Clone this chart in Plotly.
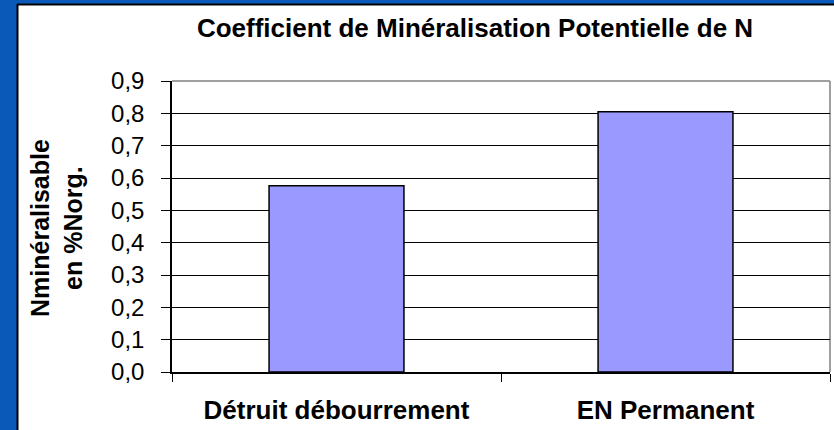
import plotly.graph_objects as go

categories = ["Détruit débourrement", "EN Permanent"]
values = [0.576, 0.805]
y_ticks = [0.0, 0.1, 0.2, 0.3, 0.4, 0.5, 0.6, 0.7, 0.8, 0.9]

title_text = "Coefficient de Minéralisation Potentielle de N"
y_title = "Nminéralisable<br>en %Norg."

W, H = 834, 430
L, R, T, B = 172, 4, 81, 58
pw, ph = W - L - R, H - T - B


def px_x(p):
    return (p - L) / pw


def px_y(p):
    return (H - B - p) / ph


FONT = "Liberation Sans, Arial, sans-serif"
BLUE = "#0A58B8"

fig = go.Figure()
fig.add_trace(go.Bar(
    x=categories, y=values, width=0.41,
    marker=dict(color="#9999FF", line=dict(color="black", width=1.5)),
    hoverinfo="skip",
))

shapes = [
    # blue slide background strips (left and top)
    dict(type="rect", xref="paper", yref="paper", layer="above",
         x0=px_x(-5), x1=px_x(17), y0=px_y(440), y1=px_y(-5),
         fillcolor=BLUE, line=dict(width=0)),
    dict(type="rect", xref="paper", yref="paper", layer="above",
         x0=px_x(-5), x1=px_x(840), y0=px_y(4), y1=px_y(-5),
         fillcolor=BLUE, line=dict(width=0)),
    # black border of the chart panel
    dict(type="line", xref="paper", yref="paper", layer="above",
         x0=px_x(17.5), x1=px_x(17.5), y0=px_y(440), y1=px_y(4),
         line=dict(color="black", width=2)),
    dict(type="line", xref="paper", yref="paper", layer="above",
         x0=px_x(17), x1=px_x(840), y0=px_y(4.5), y1=px_y(4.5),
         line=dict(color="black", width=2)),
    # grey plot frame (top / right)
    dict(type="line", xref="paper", yref="paper", layer="between",
         x0=0, x1=1, y0=1, y1=1, line=dict(color="#808080", width=1.5)),
    dict(type="line", xref="paper", yref="paper", layer="between",
         x0=1, x1=1, y0=0, y1=1, line=dict(color="#808080", width=1.5)),
]

fig.update_layout(
    width=W, height=H,
    margin=dict(l=L, r=R, t=T, b=B),
    paper_bgcolor="white",
    plot_bgcolor="white",
    separators=", ",
    showlegend=False,
    font=dict(family=FONT, color="black"),
    title=dict(text="<b>" + title_text + "</b>", font=dict(size=26, color="black"),
               xref="container", x=475 / W, xanchor="center",
               yref="container", y=1 - 28 / H, yanchor="middle"),
    shapes=shapes,
    annotations=[dict(text="<b>" + y_title + "</b>", xref="paper", yref="paper",
                      x=px_x(56), y=px_y(228), xanchor="center", yanchor="middle",
                      textangle=-90, showarrow=False,
                      font=dict(size=25, color="black", family=FONT))],
)

fig.update_xaxes(
    tickson="boundaries", ticks="outside", ticklen=8, tickcolor="black",
    showline=True, linecolor="black", linewidth=1.5,
    showgrid=False, tickfont=dict(size=26, color="black", family=FONT, weight="bold"),
    ticklabelstandoff=14,
)
fig.update_yaxes(
    range=[0, 0.9], tickvals=y_ticks, tickformat=".1f",
    ticks="outside", ticklen=9, tickcolor="black",
    showline=True, linecolor="black", linewidth=1.5,
    showgrid=True, gridcolor="black", gridwidth=1,
    zeroline=False,
    tickfont=dict(size=24, color="black", family=FONT),
    ticklabelstandoff=12,
)

fig.write_html("out.html", config={"displayModeBar": False},
               post_script="document.body.style.margin='0';document.body.style.padding='0';")
